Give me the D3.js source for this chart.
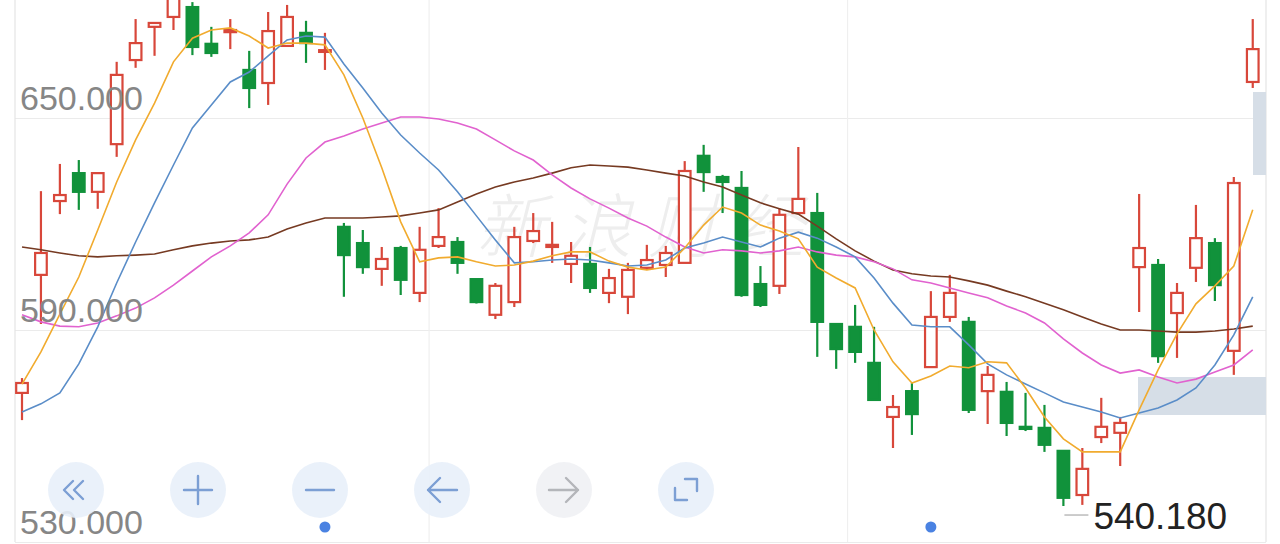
<!DOCTYPE html>
<html>
<head>
<meta charset="utf-8">
<script src="https://cdn.jsdelivr.net/npm/d3@7"></script>
<style>
    html, body { margin: 0; padding: 0; background: #fff; overflow: hidden; }
</style>
</head>
<body>
<svg id="chart" width="1280" height="544"></svg>
<script>
// Candles (price units)
var opens = [572.2, 605.6, 626.5, 634.4, 629.1, 642.6, 666.4, 675.8, 678.6, 681.4, 671.0, 674.3, 663.6, 659.9, 670.4, 674.1, 668.7,
    619.2, 614.6, 607.3, 613.2, 600.5, 613.8, 614.9, 604.4, 594.3, 597.9, 615.2, 613.5, 608.7, 608.7, 600.5, 599.4, 607.6, 608.4,
    609.0, 639.3, 633.3, 630.2, 603.0, 602.5, 623.1, 623.1, 591.7, 590.9, 580.7, 565.4, 572.7, 579.5, 593.7, 592.3, 572.7, 572.5,
    562.6, 562.3, 555.8, 543.3, 559.7, 560.9, 607.8, 608.4, 594.8, 607.6, 614.6, 584.1, 660.2];
var closes = [575.0, 611.8, 628.2, 629.1, 634.4, 662.2, 671.2, 676.9, 684.8, 670.1, 668.4, 674.9, 658.5, 674.6, 678.6, 671.2, 669.2,
    611.2, 607.8, 610.1, 604.2, 612.7, 616.3, 609.0, 597.9, 602.5, 616.3, 618.0, 614.1, 611.0, 601.9, 604.7, 607.0, 609.8, 611.8,
    635.0, 634.7, 631.9, 599.9, 597.1, 622.6, 627.1, 592.3, 584.6, 583.8, 570.2, 568.2, 566.2, 593.7, 600.5, 567.4, 577.3, 563.7,
    562.0, 557.5, 542.5, 550.7, 562.6, 563.7, 613.2, 582.6, 600.5, 616.0, 602.7, 631.6, 669.5];
var highs = [576.4, 629.3, 637.0, 638.1, 634.4, 665.9, 678.0, 676.9, 686.8, 682.8, 675.8, 678.0, 669.0, 680.0, 682.0, 677.5, 674.1,
    620.3, 618.3, 613.5, 613.8, 619.2, 624.5, 616.3, 604.4, 603.3, 619.2, 623.1, 620.6, 614.9, 613.5, 607.3, 609.0, 614.1, 613.8,
    637.8, 642.4, 633.9, 635.0, 608.1, 624.5, 641.8, 628.8, 591.7, 597.1, 590.9, 571.6, 575.0, 601.0, 605.6, 593.7, 579.8, 575.3,
    572.2, 568.8, 555.8, 556.6, 570.8, 565.4, 628.5, 610.1, 603.3, 625.4, 616.0, 633.3, 678.0];
var lows = [564.5, 591.7, 622.8, 624.0, 624.3, 639.0, 664.2, 667.6, 674.9, 667.8, 667.3, 669.5, 652.8, 653.7, 670.4, 665.6, 663.6,
    599.4, 605.9, 602.5, 599.9, 597.9, 613.2, 605.9, 597.5, 593.1, 596.5, 614.6, 609.0, 603.3, 600.5, 597.6, 594.5, 607.0, 605.0,
    609.0, 629.1, 623.1, 599.4, 596.5, 600.2, 623.1, 582.4, 579.0, 580.7, 570.2, 556.6, 560.3, 579.5, 592.3, 566.5, 563.4, 560.0,
    561.4, 555.5, 540.18, 540.5, 558.0, 551.5, 595.1, 580.7, 582.1, 603.6, 598.2, 577.3, 658.5];

// Moving averages
var ma5 = [574.7, 583.8, 594.5, 605.0, 618.3, 631.9, 643.8, 654.2, 665.9, 672.6, 674.9, 675.5, 673.2, 669.8, 671.2, 671.2, 670.7,
    662.2, 650.0, 635.9, 620.6, 609.3, 610.4, 610.7, 609.3, 608.1, 608.4, 609.5, 611.0, 612.1, 612.1, 609.5, 607.8, 607.0, 607.8,
    613.2, 619.7, 624.8, 623.1, 619.7, 618.0, 615.8, 607.8, 604.7, 601.9, 590.0, 581.0, 575.0, 577.0, 579.8, 579.3, 581.0, 580.7,
    573.6, 565.4, 559.2, 555.5, 555.5, 555.5, 567.4, 578.7, 588.9, 597.4, 602.5, 608.1, 624.0];
var ma10 = [566.8, 569.1, 572.2, 580.4, 590.9, 603.3, 614.9, 626.0, 636.7, 647.2, 653.7, 660.2, 663.0, 667.6, 672.1, 673.2, 672.9,
    665.3, 658.5, 651.4, 645.2, 640.1, 635.3, 629.1, 622.3, 615.5, 609.0, 609.3, 609.8, 610.1, 609.8, 609.0, 608.1, 608.4, 609.8,
    613.2, 614.6, 616.3, 614.9, 613.5, 616.0, 617.7, 616.0, 613.5, 610.7, 604.7, 597.6, 591.4, 590.9, 590.9, 585.8, 580.4, 577.3,
    574.7, 572.2, 569.6, 568.2, 566.8, 565.1, 566.5, 567.9, 570.2, 573.6, 580.1, 588.6, 599.4];
var ma20 = [594.3, 592.3, 591.1, 590.9, 592.0, 594.0, 596.2, 599.1, 602.7, 606.7, 610.7, 613.8, 617.5, 622.6, 631.3, 638.7, 643.2,
    644.9, 646.9, 648.6, 650.3, 650.3, 649.7, 648.6, 646.9, 643.8, 640.7, 638.1, 633.9, 630.2, 627.1, 624.5, 621.7, 619.4, 616.3,
    613.5, 611.8, 612.7, 612.4, 611.8, 612.4, 613.5, 612.1, 611.2, 610.7, 609.3, 607.3, 604.2, 603.3, 601.9, 600.5, 599.1, 596.8,
    594.8, 592.0, 587.5, 583.5, 580.1, 577.8, 578.7, 576.7, 575.0, 576.1, 578.1, 580.1, 584.4];
var ma60 = [613.5, 612.7, 611.8, 611.0, 610.7, 611.0, 611.2, 611.5, 612.7, 613.8, 614.6, 615.2, 615.5, 616.3, 618.6, 620.3, 621.7,
    621.7, 621.7, 622.0, 622.3, 623.1, 624.0, 626.2, 628.5, 630.5, 631.9, 633.0, 634.4, 635.9, 636.7, 636.4, 636.1, 635.3, 634.4,
    633.6, 631.9, 630.5, 628.2, 626.0, 624.3, 622.8, 619.4, 615.8, 612.4, 609.5, 607.0, 605.9, 605.3, 605.0, 603.9, 602.7, 601.0,
    599.4, 597.6, 595.7, 593.7, 591.7, 590.0, 590.0, 589.7, 589.4, 589.4, 589.7, 590.3, 591.1];

var yTicks = [650, 590, 530];
var periodBreaks = [21.5, 43.6];   // vertical grid between candles
var eventDays = [16, 48];          // blue dots under the axis
var lowestIndex = 55;

var width = 1280, height = 544;
var plotLeft = 15, plotRight = 1266, plotTop = 0, plotBottom = 542;

var svg = d3.select("#chart");

var x = d3.scaleLinear().domain([-0.37, 65.7]).range([plotLeft, plotRight]);
var y = d3.scaleLinear().domain([530, 650]).range([542, 118]);
var step = x(1) - x(0);
var bodyW = step * 0.72;

var red = "#d8473a", green = "#11923b";

svg.append("defs").append("clipPath").attr("id", "plotClip")
    .append("rect")
    .attr("x", plotLeft).attr("y", plotTop)
    .attr("width", plotRight - plotLeft).attr("height", plotBottom - plotTop);

// Grid
var grid = svg.append("g").attr("transform", "translate(" + plotLeft + ",0)")
    .call(d3.axisRight(y).tickValues(yTicks).tickSize(plotRight - plotLeft).tickFormat(""));
grid.select(".domain").remove();
grid.selectAll("line").attr("stroke", "#ebebeb").attr("stroke-width", 1.2);

svg.append("g").selectAll("line")
    .data(periodBreaks.concat([-0.37, 65.7]))
    .enter().append("line")
    .attr("x1", function(d) { return x(d); })
    .attr("x2", function(d) { return x(d); })
    .attr("y1", plotTop)
    .attr("y2", plotBottom)
    .attr("stroke", function(d, i) { return i < periodBreaks.length ? "#efefef" : "#e4e4e4"; })
    .attr("stroke-width", 1.2);

// Watermark
svg.append("text")
    .attr("x", 476)
    .attr("y", 252)
    .attr("font-family", "'Noto Sans CJK SC', sans-serif")
    .attr("font-size", 70)
    .attr("font-weight", 300)
    .attr("font-style", "italic")
    .attr("letter-spacing", 16)
    .attr("fill", "#eeeeee")
    .text("新浪财经");

// Grey overlay blocks at the right edge
svg.append("rect").attr("x", 1253).attr("y", 92).attr("width", 13).attr("height", 83).attr("fill", "#d6dee7");
svg.append("rect").attr("x", 1138).attr("y", 377).attr("width", 128).attr("height", 38).attr("fill", "#d6dee7");

var plot = svg.append("g").attr("clip-path", "url(#plotClip)");

// Candles
var candles = plot.selectAll("g.candle")
    .data(d3.range(opens.length))
    .enter().append("g")
    .attr("class", "candle");

candles.append("line")
    .attr("x1", function(i) { return x(i); })
    .attr("x2", function(i) { return x(i); })
    .attr("y1", function(i) { return y(highs[i]); })
    .attr("y2", function(i) { return y(lows[i]); })
    .attr("stroke", function(i) { return closes[i] >= opens[i] ? red : green; })
    .attr("stroke-width", 2.2);

candles.append("rect")
    .attr("x", function(i) { return x(i) - bodyW / 2 + 1; })
    .attr("width", bodyW - 2)
    .attr("y", function(i) { return y(Math.max(opens[i], closes[i])); })
    .attr("height", function(i) { return Math.max(1.5, Math.abs(y(opens[i]) - y(closes[i]))); })
    .attr("fill", function(i) { return closes[i] >= opens[i] ? "#fff" : green; })
    .attr("stroke", function(i) { return closes[i] >= opens[i] ? red : green; })
    .attr("stroke-width", 2.2);

// Moving average lines
var line = d3.line()
    .x(function(d, i) { return x(i); })
    .y(function(d) { return y(d); });

var maSeries = [
    { values: ma60, color: "#763a22" },
    { values: ma20, color: "#e162cf" },
    { values: ma10, color: "#5a8dc8" },
    { values: ma5, color: "#f1ab2e" }
];

plot.selectAll("path.ma")
    .data(maSeries)
    .enter().append("path")
    .attr("class", "ma")
    .attr("d", function(d) { return line(d.values); })
    .attr("fill", "none")
    .attr("stroke", function(d) { return d.color; })
    .attr("stroke-width", 1.6);

// Y labels on top
var labels = svg.append("g").attr("transform", "translate(" + plotLeft + ",0)")
    .call(d3.axisRight(y).tickValues(yTicks).tickSize(0).tickFormat(d3.format(".3f")));
labels.select(".domain").remove();
labels.selectAll("text")
    .attr("x", 5)
    .attr("dy", -9)
    .attr("text-anchor", "start")
    .attr("font-family", "'Liberation Sans', Arial, sans-serif")
    .attr("font-size", 34)
    .attr("fill", "#868686");

// Lowest price marker
var lowY = y(lows[lowestIndex]) + 9;
svg.append("line")
    .attr("x1", x(lowestIndex) + 1).attr("x2", x(lowestIndex) + 25)
    .attr("y1", lowY).attr("y2", lowY)
    .attr("stroke", "#bbbbbb").attr("stroke-width", 1.5);
svg.append("text")
    .attr("x", x(lowestIndex) + 30)
    .attr("y", lowY + 14)
    .attr("font-family", "'Liberation Sans', Arial, sans-serif")
    .attr("font-size", 37)
    .attr("fill", "#222")
    .text(d3.format(".3f")(lows[lowestIndex]));

// Event dots
svg.selectAll("circle.event")
    .data(eventDays)
    .enter().append("circle")
    .attr("class", "event")
    .attr("cx", function(d) { return x(d); })
    .attr("cy", 527)
    .attr("r", 5.5)
    .attr("fill", "#4a82e2");

// Control buttons
var buttons = [
    { cx: 76, icon: "M73,481 L64,490 L73,499 M83,481 L74,490 L83,499", bg: "#e8effa", ink: "#7c9fd4" },
    { cx: 198, icon: "M184,490 H212 M198,476 V504", bg: "#e8effa", ink: "#7c9fd4" },
    { cx: 320, icon: "M306,490 H334", bg: "#e8effa", ink: "#7c9fd4" },
    { cx: 442, icon: "M428,490 H457 M440,478 L428,490 L440,502", bg: "#e8effa", ink: "#7c9fd4" },
    { cx: 564, icon: "M549,490 H578 M566,478 L578,490 L566,502", bg: "#f0f1f4", ink: "#b4b6ba" },
    { cx: 686, icon: "M685,479 H697 V491 M675,488 V500 H687", bg: "#e8effa", ink: "#7c9fd4" }
];

var btn = svg.selectAll("g.button")
    .data(buttons)
    .enter().append("g")
    .attr("class", "button");

btn.append("circle")
    .attr("cx", function(d) { return d.cx; })
    .attr("cy", 490)
    .attr("r", 28)
    .attr("fill", function(d) { return d.bg; })
    .attr("fill-opacity", 0.9);

btn.append("path")
    .attr("d", function(d) { return d.icon; })
    .attr("fill", "none")
    .attr("stroke", function(d) { return d.ink; })
    .attr("stroke-width", 2.4)
    .attr("stroke-linecap", "round")
    .attr("stroke-linejoin", "round");
</script>
</body>
</html>
